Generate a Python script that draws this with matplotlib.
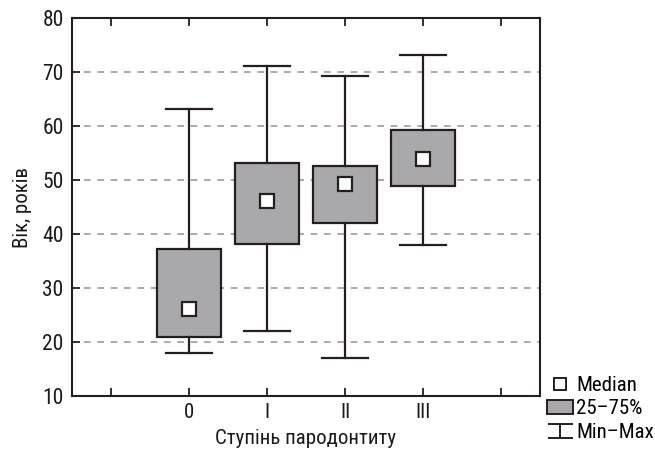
import matplotlib
matplotlib.use("Agg")
import matplotlib.pyplot as plt
from matplotlib.path import Path
from matplotlib.lines import Line2D
from matplotlib.patches import Patch
from matplotlib import font_manager

names = {f.name for f in font_manager.fontManager.ttflist}
fam = None
for cand in ["Liberation Sans Narrow", "Roboto Condensed", "Open Sans Condensed", "Noto Sans Condensed"]:
    if cand in names:
        fam = cand
        break
stretch = "normal"
if fam is None:
    cond = [f for f in font_manager.fontManager.ttflist
            if f.name == "DejaVu Sans" and "Condensed" in f.fname and f.weight in (400, "normal")]
    if cond:
        fam = "DejaVu Sans"
        stretch = "condensed"
    else:
        fam = "Liberation Sans"
plt.rcParams['font.family'] = [fam, 'DejaVu Sans']
plt.rcParams['font.stretch'] = stretch

categories = ["0", "I", "II", "III"]
mins = [18, 22, 17, 38]
q1s = [21, 38.2, 42.1, 48.8]
medians = [26.2, 46.2, 49.2, 53.8]
q3s = [37.3, 53.2, 52.6, 59.2]
maxs = [63.2, 71.1, 69.2, 73.2]
yticks = [10, 20, 30, 40, 50, 60, 70, 80]

gray = "#a9a9ac"
dark = "#231f20"
txt = "#1a1a1a"

fig = plt.figure(figsize=(6.55, 4.5), dpi=100)
ax = fig.add_axes([72/655, 54/450, 468/655, 378/450])

stats = []
for c, lo, a, m, b, hi in zip(categories, mins, q1s, medians, q3s, maxs):
    stats.append(dict(label=c, whislo=lo, q1=a, med=m, q3=b, whishi=hi, fliers=[]))
pos = list(range(len(categories)))
ax.bxp(stats, positions=pos, widths=0.82, capwidths=0.58, patch_artist=True,
       showfliers=False,
       boxprops=dict(facecolor=gray, edgecolor=dark, linewidth=1.6),
       whiskerprops=dict(color=dark, linewidth=1.6),
       capprops=dict(color=dark, linewidth=1.6),
       medianprops=dict(linewidth=0), zorder=3)
ax.plot(pos, medians, linestyle="none", marker="s", markersize=10,
        markerfacecolor="white", markeredgecolor=dark, markeredgewidth=1.6, zorder=5)

ax.set_xlim(-1.5, 4.5)
ax.set_ylim(10, 80)
ax.set_yticks(yticks)
ax.set_xticks([-1, 0, 1, 2, 3, 4])
ax.set_xticklabels([""] + categories + [""])
ax.tick_params(axis="both", direction="in", length=6, width=1.3, color=dark,
               top=True, labelsize=15.5, labelcolor=txt)
ax.tick_params(axis="x", labelsize=15, pad=5)
ax.tick_params(axis="y", pad=6)
for s in ax.spines.values():
    s.set_linewidth(1.5)
    s.set_color(dark)
for y in yticks[1:-1]:
    ax.axhline(y, xmin=0.025, color="#9a9a9a", linestyle=(0, (4, 4)), linewidth=1.2, zorder=1)
ax.set_xlabel("Ступінь пародонтиту", fontsize=15, color=txt, labelpad=5)
ax.set_ylabel("Вік, років", fontsize=15, color=txt, labelpad=7)

mm = Path([(-1, 0.55), (1, 0.55), (0, 0.55), (0, -0.55), (-1, -0.55), (1, -0.55)],
          [Path.MOVETO, Path.LINETO, Path.MOVETO, Path.LINETO, Path.MOVETO, Path.LINETO])
handles = [
    Line2D([], [], linestyle="none", marker="s", markersize=9, markerfacecolor="white",
           markeredgecolor=dark, markeredgewidth=1.4),
    Patch(facecolor=gray, edgecolor=dark, linewidth=1.4),
    Line2D([], [], linestyle="none", marker=mm, markersize=18, markerfacecolor="none",
           markeredgecolor=dark, markeredgewidth=1.4),
]
fig.legend(handles, ["Median", "25–75%", "Min–Max"], loc="lower left",
           bbox_to_anchor=(547/655, 8/450), frameon=False, fontsize=15,
           handlelength=1.25, handleheight=0.6, handletextpad=0.15, labelspacing=0.22,
           borderpad=0, borderaxespad=0)

fig.savefig("out.png", dpi=100)
